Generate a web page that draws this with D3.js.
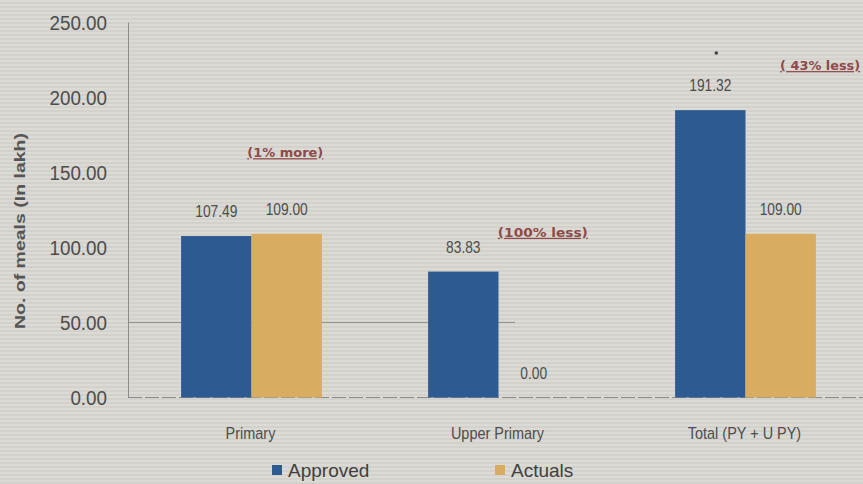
<!DOCTYPE html>
<html><head><meta charset="utf-8">
<script src="https://cdn.jsdelivr.net/npm/d3@7"></script>
<style>body{margin:0;background:#d8d7d1;}svg{display:block;}</style>
</head><body>
<svg id="c" width="863" height="484"></svg>
<script>
const categories = ["Primary", "Upper Primary", "Total (PY + U PY)"];
const seriesNames = ["Approved", "Actuals"];
const approved = [107.49, 83.83, 191.32];
const actuals = [109.00, 0.00, 109.00];
const yTicks = [0, 50, 100, 150, 200, 250];
const notes = ["(1% more)", "(100%  less)", "( 43% less)"];
const noteValues = [160, 107, 218];
const colors = ["#2e5a92", "#d8ad61"];

const svg = d3.select("#c");
const W = 863, H = 484;
const m = {left: 128, right: -6, top: 22, bottom: 86.5};
const defs = svg.append("defs");
const pat = defs.append("pattern").attr("id","stripes").attr("width",8).attr("height",4).attr("patternUnits","userSpaceOnUse");
pat.append("rect").attr("width",8).attr("height",4).attr("fill","#dbdad4");
pat.append("rect").attr("y",2).attr("width",8).attr("height",2).attr("fill","#d2d1cb");
svg.append("rect").attr("width",W).attr("height",H).attr("fill","url(#stripes)");

function condense(sel, f) {
  sel.each(function() {
    const len = this.getComputedTextLength();
    d3.select(this).attr("textLength", len * f).attr("lengthAdjust", "spacingAndGlyphs");
  });
}
function fitTo(sel, w) {
  sel.attr("textLength", w).attr("lengthAdjust", "spacingAndGlyphs");
}

const x = d3.scaleBand().domain(categories).range([m.left, W - m.right]).paddingInner(0.43).paddingOuter(0.215);
const y = d3.scaleLinear().domain([0, 250]).range([H - m.bottom, m.top]);
const xs = d3.scaleBand().domain(seriesNames).range([0, x.bandwidth()]);

// grid line at 50
svg.append("line").attr("x1", m.left).attr("x2", 515).attr("y1", y(50)).attr("y2", y(50)).attr("stroke", "#7e7e7a").attr("stroke-width", 0.8);

// y axis
const yAxis = d3.axisLeft(y).tickValues(yTicks).tickFormat(d3.format(".2f")).tickSize(0).tickPadding(21);
const ga = svg.append("g").attr("transform", `translate(${m.left},0)`).call(yAxis);
ga.select(".domain").attr("stroke", "#8c8c88").attr("stroke-width", 1);
ga.selectAll("text").attr("font-family", "'Liberation Sans', Arial, sans-serif").attr("font-size", 20).attr("fill", "#4d4d4d").attr("dy", "0.36em");
condense(ga.selectAll("text"), 0.94);

// baseline
svg.append("line").attr("x1", m.left).attr("x2", W).attr("y1", y(0)).attr("y2", y(0)).attr("stroke", "#8c8c88").attr("stroke-width", 1).attr("stroke-dasharray", "14,3");

const data = categories.map((c, i) => ({c, vals: [approved[i], actuals[i]]}));
const g = svg.selectAll(".grp").data(data).join("g").attr("transform", d => `translate(${x(d.c)},0)`);
g.selectAll("rect").data(d => d.vals.map((v, j) => ({v, s: seriesNames[j], j}))).join("rect")
  .attr("x", d => xs(d.s)).attr("width", xs.bandwidth())
  .attr("y", d => y(d.v)).attr("height", d => y(0) - y(d.v))
  .attr("fill", d => colors[d.j]);
const vals = g.selectAll(".val").data(d => d.vals.map((v, j) => ({v, s: seriesNames[j], j}))).join("text")
  .attr("x", d => xs(d.s) + xs.bandwidth() / 2).attr("y", d => y(d.v) - 19)
  .attr("text-anchor", "middle").attr("font-family", "'Liberation Sans', Arial, sans-serif")
  .attr("font-size", 16).attr("fill", "#4d4d4d").text(d => d3.format(".2f")(d.v));
condense(vals, 0.86);

// category labels
const cats = svg.selectAll(".cat").data(categories).join("text")
  .attr("x", d => x(d) + x.bandwidth() / 2 - 1).attr("y", 439).attr("text-anchor", "middle")
  .attr("font-family", "'Liberation Sans', Arial, sans-serif").attr("font-size", 17).attr("fill", "#4d4d4d").text(d => d);
condense(cats, 0.85);

// annotations
const noteK = [0.74, 0.815, 1.03];
const noteW = [76, 90, 80];
notes.forEach((t, i) => {
  const tx = svg.append("text").attr("x", x(categories[i]) + x.bandwidth() * noteK[i]).attr("y", y(noteValues[i])).attr("text-anchor", "middle")
    .attr("font-family", "'DejaVu Sans', Verdana, sans-serif").attr("font-size", 12.5).attr("font-weight", "bold")
    .attr("fill", "#8e4a4a").attr("text-decoration", "underline").text(t);
  fitTo(tx, noteW[i]);
});
svg.append("circle").attr("cx", x(categories[2]) + xs(seriesNames[0]) + xs.bandwidth() / 2 + 6).attr("cy", 53).attr("r", 1.8).attr("fill", "#444");

// y label
const yl = svg.append("text").attr("transform", `translate(25,${231}) rotate(-90)`).attr("text-anchor", "middle")
  .attr("font-family", "'Liberation Sans', Arial, sans-serif").attr("font-size", 14).attr("font-weight", "bold").attr("fill", "#555")
  .text("No. of meals (In lakh)");
fitTo(yl, 196);

// legend
const legX = [272, 495];
seriesNames.forEach((s, i) => {
  svg.append("rect").attr("x", legX[i]).attr("y", 465).attr("width", 10).attr("height", 10).attr("fill", colors[i]);
  svg.append("text").attr("x", legX[i] + 16).attr("y", 477).attr("font-family", "'Liberation Sans', Arial, sans-serif").attr("font-size", 19).attr("fill", "#3f3f3f").text(s);
});
</script>
</body></html>
